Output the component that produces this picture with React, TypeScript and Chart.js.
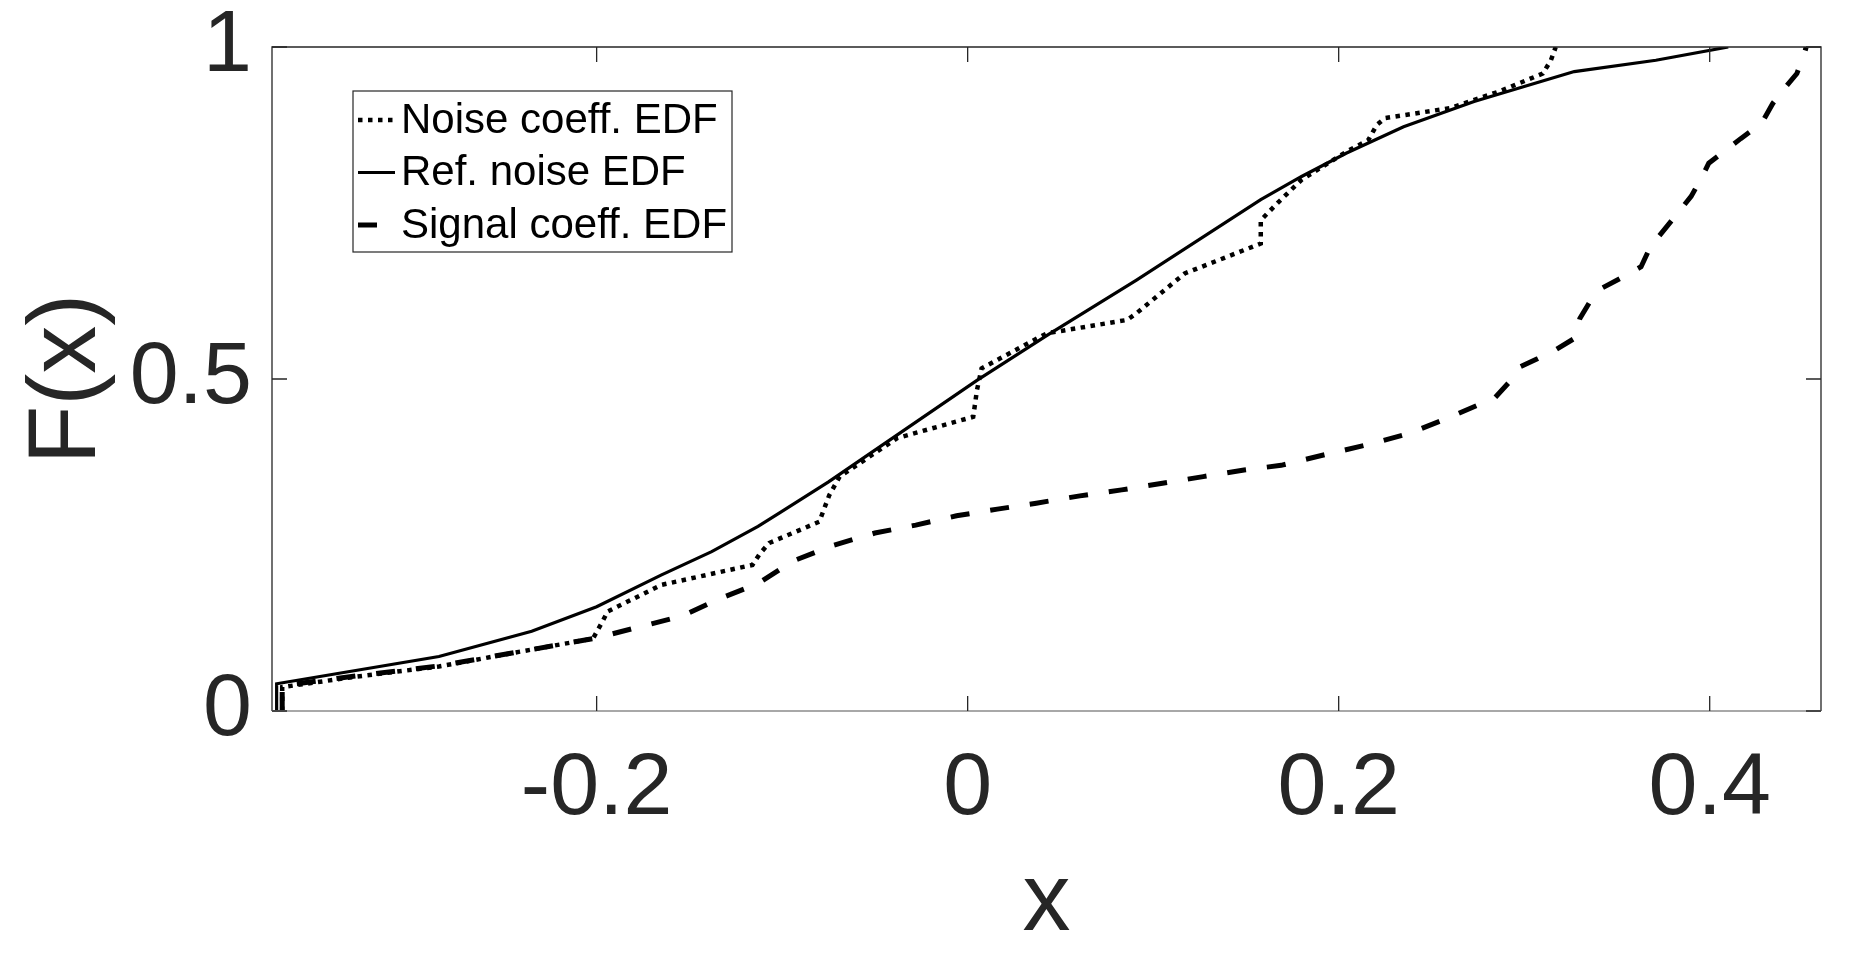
import { useEffect, useRef } from 'react';
import { Chart, registerables } from 'chart.js';

Chart.register(...registerables);

// Noise coeff. EDF (dotted)
const noiseX = [-0.3695, -0.3695, -0.329, -0.285, -0.242, -0.202, -0.197, -0.194, -0.165, -0.116, -0.112, -0.107, -0.08, -0.0746, -0.069, -0.038, 0.003, 0.005, 0.0075, 0.034, 0.043, 0.086, 0.091, 0.117, 0.158, 0.158, 0.167, 0.18, 0.204, 0.216, 0.2205, 0.225, 0.26, 0.2865, 0.31, 0.3144, 0.317];
const noiseY = [0, 0.036, 0.052, 0.067, 0.089, 0.109, 0.134, 0.15, 0.19, 0.22, 0.237, 0.253, 0.285, 0.325, 0.353, 0.411, 0.443, 0.483, 0.516, 0.556, 0.569, 0.589, 0.599, 0.659, 0.704, 0.739, 0.765, 0.8, 0.842, 0.86, 0.8825, 0.893, 0.908, 0.933, 0.96, 0.98, 1.0];

// Ref. noise EDF (solid)
const refX = [-0.3725, -0.3725, -0.285, -0.235, -0.2, -0.165, -0.138, -0.113, -0.1016, -0.075, 0.005, 0.043, 0.091, 0.158, 0.18, 0.204, 0.235, 0.273, 0.327, 0.371, 0.41];
const refY = [0, 0.041, 0.082, 0.12, 0.157, 0.205, 0.24, 0.278, 0.298, 0.345, 0.498, 0.566, 0.649, 0.77, 0.805, 0.84, 0.88, 0.918, 0.963, 0.98, 1.0];

// Signal coeff. EDF (dashed)
const signalX = [-0.3695, -0.3695, -0.329, -0.285, -0.242, -0.2, -0.1765, -0.154, -0.133, -0.113, -0.094, -0.073, -0.05, -0.028, -0.006, 0.016, 0.037, 0.0605, 0.083, 0.105, 0.127, 0.149, 0.169, 0.194, 0.2155, 0.238, 0.2587, 0.2795, 0.284, 0.2946, 0.298, 0.3074, 0.3173, 0.327, 0.33, 0.336, 0.342, 0.3535, 0.363, 0.368, 0.39, 0.396, 0.3995, 0.4167, 0.428, 0.434, 0.4395, 0.447, 0.451, 0.452];
const signalY = [0, 0.038, 0.053, 0.068, 0.089, 0.11, 0.127, 0.143, 0.17, 0.192, 0.226, 0.249, 0.268, 0.28, 0.294, 0.304, 0.313, 0.324, 0.333, 0.343, 0.353, 0.363, 0.37, 0.387, 0.401, 0.418, 0.441, 0.466, 0.471, 0.5035, 0.5185, 0.531, 0.5447, 0.561, 0.591, 0.619, 0.637, 0.654, 0.669, 0.699, 0.775, 0.805, 0.825, 0.862, 0.885, 0.915, 0.935, 0.96, 0.99, 1.0];

const seriesLabels = ['Noise coeff. EDF', 'Ref. noise EDF', 'Signal coeff. EDF'];

const xTicks = [-0.2, 0, 0.2, 0.4];
const xTickLabels = ['-0.2', '0', '0.2', '0.4'];
const yTicks = [0, 0.5, 1];
const yTickLabels = ['0', '0.5', '1'];

const FONT = '"Liberation Sans", Arial, Helvetica, sans-serif';
const AXIS_COLOR = '#262626';
const TICK_LEN = 15;

const toPoints = (xs: number[], ys: number[]) => xs.map((x, i) => ({ x, y: ys[i] }));

// MATLAB-style box with inward ticks on all four sides
const boxPlugin = {
  id: 'matlabBox',
  afterDatasetsDraw(chart: any) {
    const { ctx, chartArea, scales } = chart;
    const { left, right, top, bottom } = chartArea;
    ctx.save();
    ctx.strokeStyle = AXIS_COLOR;
    ctx.lineWidth = 1.3;
    ctx.beginPath();
    ctx.moveTo(left, bottom);
    ctx.lineTo(left, top);
    ctx.lineTo(right, top);
    ctx.lineTo(right, bottom);
    ctx.stroke();

    ctx.strokeStyle = '#a8a8a8';
    ctx.lineWidth = 2;
    ctx.beginPath();
    ctx.moveTo(left, bottom);
    ctx.lineTo(right, bottom);
    ctx.stroke();

    ctx.strokeStyle = AXIS_COLOR;
    ctx.lineWidth = 1.3;
    ctx.beginPath();
    xTicks.forEach((v) => {
      const px = scales.x.getPixelForValue(v);
      ctx.moveTo(px, bottom);
      ctx.lineTo(px, bottom - TICK_LEN);
      ctx.moveTo(px, top);
      ctx.lineTo(px, top + TICK_LEN);
    });
    yTicks.forEach((v) => {
      const py = scales.y.getPixelForValue(v);
      ctx.moveTo(left, py);
      ctx.lineTo(left + TICK_LEN, py);
      ctx.moveTo(right, py);
      ctx.lineTo(right - TICK_LEN, py);
    });
    ctx.stroke();
    ctx.restore();
  },
};

// legend box inside the axes, upper left
const legendPlugin = {
  id: 'insetLegend',
  afterDraw(chart: any) {
    const { ctx, chartArea } = chart;
    const bx = chartArea.left + 81;
    const by = chartArea.top + 44;
    const bw = 379;
    const bh = 161;
    ctx.save();
    ctx.fillStyle = '#ffffff';
    ctx.fillRect(bx, by, bw, bh);
    ctx.strokeStyle = AXIS_COLOR;
    ctx.lineWidth = 1.2;
    ctx.strokeRect(bx, by, bw, bh);
    ctx.font = `42px ${FONT}`;
    ctx.textBaseline = 'middle';
    ctx.textAlign = 'left';
    chart.data.datasets.forEach((ds: any, i: number) => {
      const rowY = by + 29 + i * 52.5;
      ctx.setLineDash(ds.borderDash || []);
      ctx.lineWidth = ds.borderWidth;
      ctx.strokeStyle = ds.borderColor;
      ctx.beginPath();
      ctx.moveTo(bx + 5, rowY);
      ctx.lineTo(bx + 42, rowY);
      ctx.stroke();
      ctx.setLineDash([]);
      ctx.fillStyle = '#000000';
      ctx.fillText(ds.label, bx + 48, rowY + 1);
    });
    ctx.restore();
  },
};

export default function App() {
  const canvasRef = useRef<HTMLCanvasElement>(null);

  useEffect(() => {
    if (!canvasRef.current) return;
    const chart = new Chart(canvasRef.current, {
      type: 'line',
      data: {
        datasets: [
          {
            label: seriesLabels[0],
            data: toPoints(noiseX, noiseY),
            borderColor: '#000000',
            borderWidth: 4.5,
            borderDash: [4.5, 5.5],
            pointRadius: 0,
            tension: 0,
          },
          {
            label: seriesLabels[1],
            data: toPoints(refX, refY),
            borderColor: '#000000',
            borderWidth: 3.2,
            pointRadius: 0,
            tension: 0,
          },
          {
            label: seriesLabels[2],
            data: toPoints(signalX, signalY),
            borderColor: '#000000',
            borderWidth: 5,
            borderDash: [19, 21],
            pointRadius: 0,
            tension: 0,
          },
        ],
      },
      options: {
        responsive: false,
        animation: false,
        layout: { padding: { left: 0, top: 47, right: 34, bottom: 0 } },
        plugins: {
          legend: { display: false },
          tooltip: { enabled: false },
        },
        scales: {
          x: {
            type: 'linear',
            min: -0.375,
            max: 0.46,
            grid: { display: false, drawTicks: false },
            border: { display: false },
            afterBuildTicks: (s: any) => {
              s.ticks = xTicks.map((v) => ({ value: v }));
            },
            afterFit: (s: any) => {
              s.height = 258;
              s.paddingLeft = 0;
              s.paddingRight = 0;
            },
            ticks: {
              autoSkip: false,
              maxRotation: 0,
              padding: 26,
              color: AXIS_COLOR,
              font: { family: FONT, size: 88 },
              callback: (v: any) => xTickLabels[xTicks.indexOf(Number(v))],
            },
            title: {
              display: true,
              text: 'x',
              color: AXIS_COLOR,
              font: { family: FONT, size: 96 },
              padding: { top: 0, bottom: 8 },
            },
          },
          y: {
            type: 'linear',
            min: 0,
            max: 1,
            grid: { display: false, drawTicks: false },
            border: { display: false },
            afterBuildTicks: (s: any) => {
              s.ticks = yTicks.map((v) => ({ value: v }));
            },
            afterFit: (s: any) => {
              s.width = 272;
              s.paddingTop = 0;
              s.paddingBottom = 0;
            },
            ticks: {
              padding: 20,
              color: AXIS_COLOR,
              font: { family: FONT, size: 88 },
              callback: (v: any) => yTickLabels[yTicks.indexOf(Number(v))],
            },
            title: {
              display: true,
              text: 'F(x)',
              color: AXIS_COLOR,
              font: { family: FONT, size: 96 },
              padding: { top: 11, bottom: 0 },
            },
          },
        },
      },
      plugins: [boxPlugin, legendPlugin],
    });
    return () => {
      chart.destroy();
    };
  }, []);

  return (
    <div style={{ position: 'absolute', left: 0, top: 0, width: 1855, height: 969, background: '#ffffff' }}>
      <canvas ref={canvasRef} width={1855} height={969} />
    </div>
  );
}
